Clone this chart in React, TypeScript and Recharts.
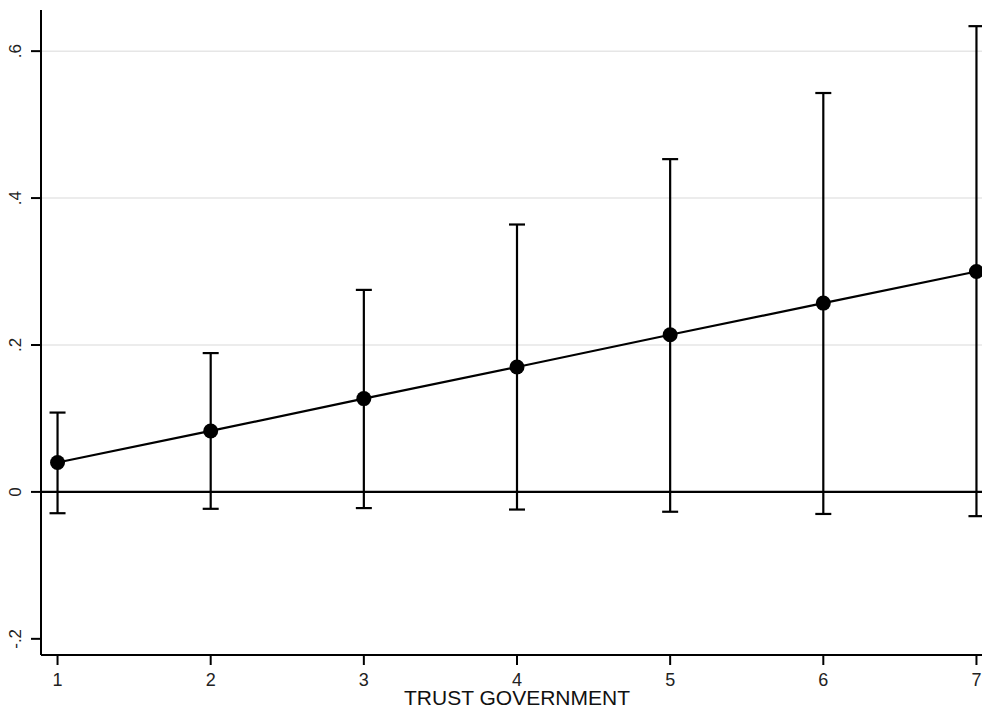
import React from 'react';
import {
  ComposedChart,
  Line,
  XAxis,
  YAxis,
  ErrorBar,
  ReferenceLine,
} from 'recharts';

const trustLevels = [1, 2, 3, 4, 5, 6, 7];
const estimates = [0.04, 0.083, 0.127, 0.17, 0.214, 0.257, 0.3];
const lowerCI = [-0.029, -0.023, -0.022, -0.024, -0.027, -0.03, -0.033];
const upperCI = [0.108, 0.189, 0.275, 0.364, 0.453, 0.543, 0.634];

const yTicks = [-0.2, 0, 0.2, 0.4, 0.6];
const yTickLabels = ['-.2', '0', '.2', '.4', '.6'];
const gridLevels = [0.2, 0.4, 0.6];

const data = trustLevels.map((t, i) => ({
  trust: t,
  estimate: estimates[i],
  ci: [estimates[i] - lowerCI[i], upperCI[i] - estimates[i]],
}));

const FONT = '"Liberation Sans", Arial, sans-serif';

const RotatedYTick = (props: any) => {
  const { x, y, payload } = props;
  const idx = yTicks.indexOf(payload.value);
  const label = idx >= 0 ? yTickLabels[idx] : String(payload.value);
  return (
    <text
      x={0}
      y={0}
      transform={`translate(${x - 8}, ${y}) rotate(-90)`}
      textAnchor="middle"
      fontSize={17}
      fontFamily={FONT}
      fill="#222"
    >
      {label}
    </text>
  );
};

const XTick = (props: any) => {
  const { x, y, payload } = props;
  return (
    <text
      x={x}
      y={y + 19}
      textAnchor="middle"
      fontSize={18}
      fontFamily={FONT}
      fill="#222"
    >
      {payload.value}
    </text>
  );
};

const Dot = (props: any) => {
  const { cx, cy } = props;
  if (cx == null || cy == null) return null;
  return <circle cx={cx} cy={cy} r={7.5} fill="#000" />;
};

export default function App() {
  return (
    <div
      style={{
        position: 'fixed',
        left: 0,
        top: 0,
        width: 982,
        height: 708,
        overflow: 'hidden',
        background: '#fff',
      }}
    >
      <ComposedChart
        width={1000}
        height={708}
        data={data}
        margin={{ top: 10, right: 7, left: 0, bottom: 0 }}
      >
        <XAxis
          dataKey="trust"
          type="number"
          domain={[0.892, 7.108]}
          ticks={trustLevels}
          allowDataOverflow
          axisLine={{ stroke: '#000', strokeWidth: 2 }}
          tickLine={{ stroke: '#000', strokeWidth: 2 }}
          tickSize={10}
          height={53}
          tick={<XTick />}
          label={{
            value: 'TRUST GOVERNMENT',
            position: 'insideBottom',
            offset: 3,
            fontSize: 21,
            fontFamily: FONT,
            fill: '#111',
          }}
        />
        <YAxis
          type="number"
          domain={[-0.222, 0.656]}
          ticks={yTicks}
          allowDataOverflow
          width={41}
          axisLine={{ stroke: '#000', strokeWidth: 2 }}
          tickLine={{ stroke: '#000', strokeWidth: 2 }}
          tickSize={10}
          tick={<RotatedYTick />}
        />
        {gridLevels.map((g) => (
          <ReferenceLine key={g} y={g} stroke="#e6e6e6" strokeWidth={1.5} />
        ))}
        <ReferenceLine y={0} stroke="#000" strokeWidth={2.2} />
        <Line
          dataKey="estimate"
          stroke="#000"
          strokeWidth={2.2}
          dot={<Dot />}
          activeDot={false}
          isAnimationActive={false}
        >
          <ErrorBar
            dataKey="ci"
            direction="y"
            width={8}
            stroke="#000"
            strokeWidth={2.2}
            isAnimationActive={false}
          />
        </Line>
      </ComposedChart>
    </div>
  );
}
